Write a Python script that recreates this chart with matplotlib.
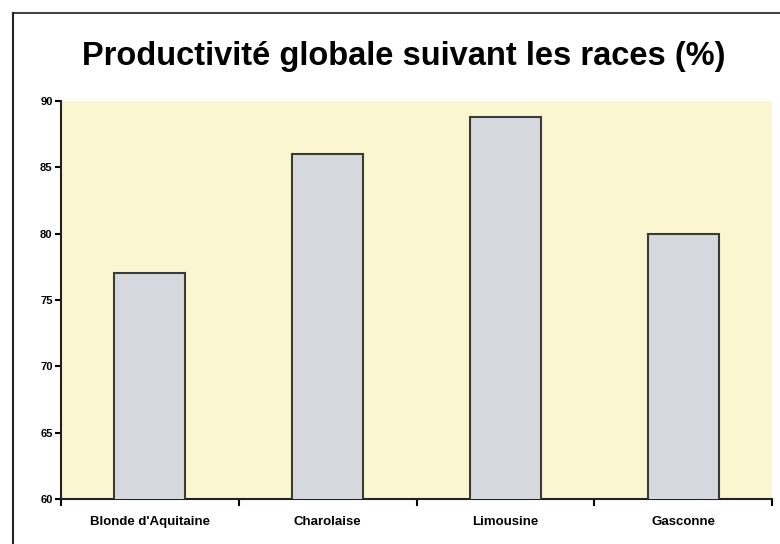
import matplotlib
matplotlib.use("Agg")
import matplotlib.pyplot as plt
from matplotlib.lines import Line2D

races = ["Blonde d'Aquitaine", "Charolaise", "Limousine", "Gasconne"]
productivite = [77, 86, 88.8, 80]
y_ticks = [60, 65, 70, 75, 80, 85, 90]

plt.rcParams['font.family'] = ['Liberation Sans', 'DejaVu Sans']

fig = plt.figure(figsize=(7.8, 5.44), dpi=100)
ax = fig.add_axes([0.078, 0.0827, 0.912, 0.7316])

pos = list(range(len(races)))
ax.bar(pos, productivite, width=0.4, bottom=0, color='#d5d9dd',
       edgecolor='#3a3a3a', linewidth=1.5, zorder=3)

ax.set_facecolor('#faf6cf')
ax.set_ylim(60, 90)
ax.set_xlim(-0.5, len(races) - 0.5)
ax.set_yticks(y_ticks)
ax.set_yticklabels([str(v) for v in y_ticks], fontsize=8, fontweight='bold')
ax.tick_params(axis='y', direction='out', length=4, width=1.5, pad=2)

# ticks between categories, labels under bars
ax.set_xticks([p - 0.5 for p in pos] + [len(races) - 0.5])
ax.set_xticklabels([])
ax.set_xticks(pos, minor=True)
ax.set_xticklabels(races, minor=True, fontsize=9.5, fontweight='bold')
ax.tick_params(axis='x', which='major', direction='out', length=5, width=1.5)
ax.tick_params(axis='x', which='minor', length=0, pad=12)

for s in ['top', 'right']:
    ax.spines[s].set_visible(False)
for s in ['left', 'bottom']:
    ax.spines[s].set_linewidth(1.5)
    ax.spines[s].set_color('#222222')

fig.text(0.518, 0.897, "Productivité globale suivant les races (%)",
         ha='center', va='center', fontsize=23.5, fontweight='bold')

# outer frame
fig.add_artist(Line2D([0.0167, 1.0], [0.976, 0.976], transform=fig.transFigure,
                      color='#444444', linewidth=1.5))
fig.add_artist(Line2D([0.0167, 0.0167], [0.0, 0.976], transform=fig.transFigure,
                      color='#222222', linewidth=1.5))

fig.savefig("out.png", dpi=100)
